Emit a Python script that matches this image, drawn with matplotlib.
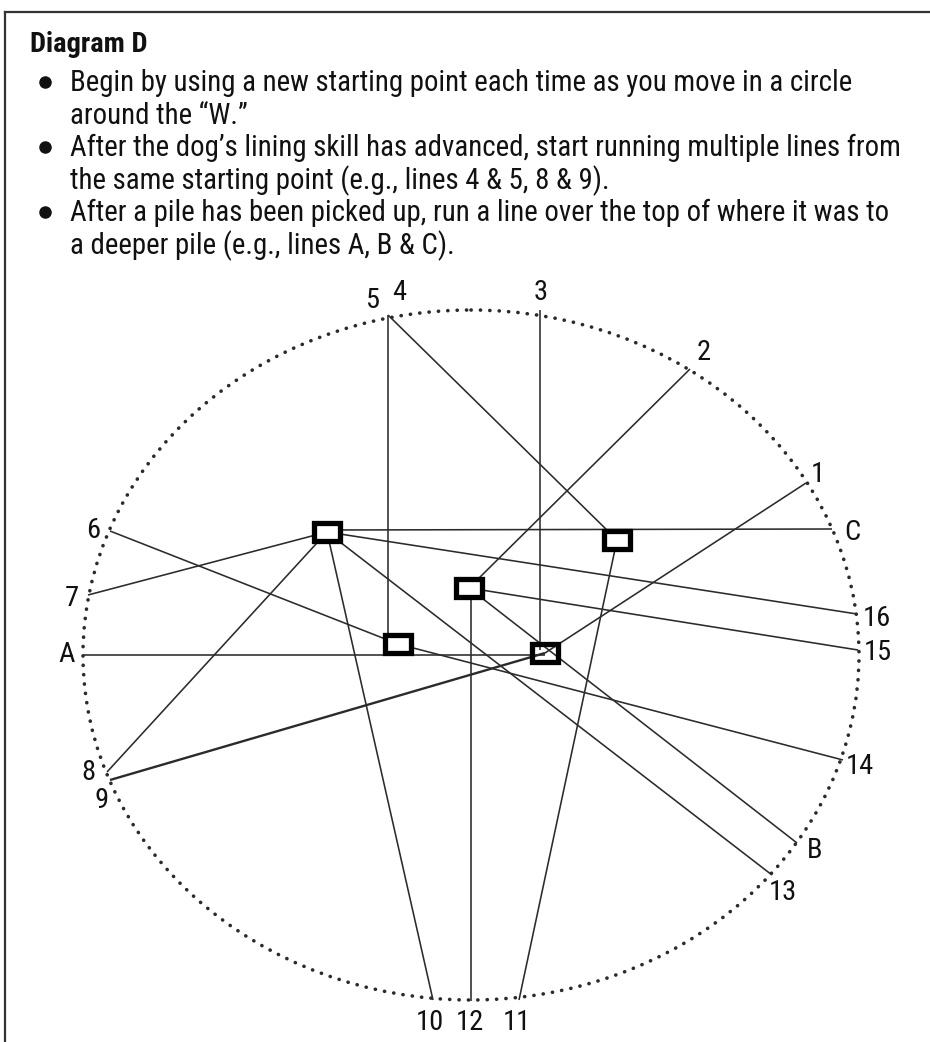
import matplotlib
matplotlib.use("Agg")
import matplotlib.pyplot as plt
from matplotlib.patches import Ellipse, Rectangle
from matplotlib.lines import Line2D

FONT = ['Roboto Condensed', 'Liberation Sans', 'DejaVu Sans']

# ---------------- data ----------------
title = "Diagram D"
text_lines = [
    "Begin by using a new starting point each time as you move in a circle",
    "around the \u201cW.\u201d",
    "After the dog\u2019s lining skill has advanced, start running multiple lines from",
    "the same starting point (e.g., lines 4 & 5, 8 & 9).",
    "After a pile has been picked up, run a line over the top of where it was to",
    "a deeper pile (e.g., lines A, B & C).",
]
text_line_bullet = [True, False, True, False, True, False]

# starting points on the circle (pixel-space data coordinates)
point_labels = ['1', '2', '3', '4', '5', '6', '7', '8', '9', '10',
                '11', '12', '13', '14', '15', '16', 'A', 'B', 'C']
point_x = [806, 690, 540, 388, 388, 110, 88, 107, 110, 433,
           519, 471, 772, 843, 858, 857, 83, 797, 832]
point_y = [483, 369, 310, 315, 315, 531, 595, 772, 780, 1000,
           1000, 1001, 875, 760, 650, 614, 655, 843, 529]
label_x = [818, 704, 541, 399, 372, 93, 72, 88, 102, 430,
           517, 470, 783, 860, 878, 877, 67, 815, 852]
label_y = [475, 353, 293, 293, 300, 530, 598, 773, 800, 1022,
           1022, 1023, 893, 767, 653, 618, 655, 850, 533]

# piles (centres)
pile_x = [327, 617, 469, 398, 545]
pile_y = [532, 540, 588, 644, 653]
pile_filled = [True, True, True, True, False]

# where each line ends
line_end_x = [545, 472, 540, 388, 612, 398, 327, 327, 545, 327,
              617, 471, 327, 398, 469, 327, 545, 469, 327]
line_end_y = [653, 585, 650, 640, 535, 644, 532, 532, 653, 532,
              540, 588, 532, 644, 588, 532, 655, 588, 530]

# circle of starting points
circle_cx, circle_cy, circle_w, circle_h = 471, 655, 776, 690

# ---------------- drawing ----------------
W, H = 930, 1042
fig = plt.figure(figsize=(W / 100, H / 100), dpi=100)
ax = fig.add_axes([0, 0, 1, 1])
ax.set_xlim(0, W)
ax.set_ylim(H, 0)
ax.axis('off')

ink = '#2b2b2b'

# frame
ax.add_line(Line2D([5, W], [12, 12], color='#333333', lw=1.6))
ax.add_line(Line2D([5, 5], [12, H], color='#333333', lw=1.6))

# title and text
ax.text(30, 45, title, fontsize=20.5, fontweight='bold', family=FONT,
        ha='left', va='center', color='#111111')
y0, dy = 91, 32.6
for i, (line, bullet) in enumerate(zip(text_lines, text_line_bullet)):
    yb = y0 + i * dy
    ax.text(70, yb, line, fontsize=20.8, family=FONT,
            ha='left', va='baseline', color='#111111')
    if bullet:
        ax.plot([45], [yb - 9], 'o', color='#111111', ms=8)

# dotted circle
ax.add_patch(Ellipse((circle_cx, circle_cy), circle_w, circle_h, fill=False,
                     edgecolor=ink, lw=2.6, linestyle=(0, (0.05, 2.55)),
                     capstyle='round', zorder=2))

# lines
for lab, sx, sy, ex, ey in zip(point_labels, point_x, point_y, line_end_x, line_end_y):
    lw = 1.7 if lab == '9' else 1.15
    ax.plot([sx, ex], [sy, ey], color=ink, lw=lw, solid_capstyle='butt', zorder=3)

# piles
bw, bh = 26, 18
for px, py, filled in zip(pile_x, pile_y, pile_filled):
    ax.add_patch(Rectangle((px - bw / 2, py - bh / 2), bw, bh,
                           facecolor='white' if filled else 'none',
                           edgecolor='black', lw=3.8, zorder=4))

# labels
for lab, lx, ly in zip(point_labels, label_x, label_y):
    ax.text(lx, ly, lab, fontsize=20.5, family=FONT,
            ha='center', va='center', color='#111111', zorder=5)

fig.savefig('out.png', dpi=100)
